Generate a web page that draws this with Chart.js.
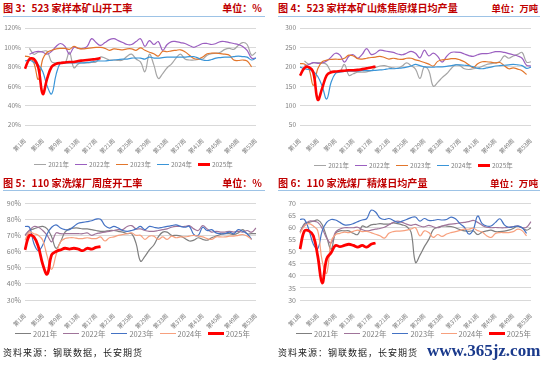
<!DOCTYPE html>
<html>
<head>
<meta charset="utf-8">
<script src="https://cdn.jsdelivr.net/npm/chart.js@4.4.1/dist/chart.umd.min.js"></script>
<style>
  body { margin: 0; width: 550px; height: 366px; background: #fff; position: relative; overflow: hidden;
         font-family: "Noto Sans CJK SC", "Noto Sans", sans-serif; }
  .title { position: absolute; font-size: 10.1px; font-weight: bold; color: #C00000; line-height: 12px; white-space: nowrap; }
  .unit { position: absolute; font-size: 10px; font-weight: bold; color: #C00000; line-height: 12px; white-space: nowrap; }
  .rule { position: absolute; height: 1px; background: #9DC3E6; }
  canvas { position: absolute; }
  .legend { position: absolute; display: flex; justify-content: center; align-items: center; white-space: nowrap; color: #7F7F7F; }
  .legend span.ln { display: inline-block; margin-right: 2px; }
  .legend span.it { display: inline-flex; align-items: center; margin: 0 3px; }
  .src { position: absolute; font-size: 9px; letter-spacing: 1px; color: #222; white-space: nowrap; }
  .mark { position: absolute; font-family: "Liberation Serif", serif; font-weight: bold; font-size: 17px; color: #1A3A8C; white-space: nowrap; }
</style>
</head>
<body>
<div class="title" style="left:3px;top:2px">图 3：523 家样本矿山开工率</div>
<div class="unit" style="right:288px;top:2px">单位：%</div>
<div class="rule" style="left:3px;top:16px;width:262px"></div>
<canvas id="c3" width="268" height="150" style="left:0;top:18px"></canvas>
<div class="legend" id="l3" style="left:0;top:159px;width:267px;height:10px;font-size:6.5px"></div>

<div class="title" style="left:278px;top:2px">图 4：523 家样本矿山炼焦原煤日均产量</div>
<div class="unit" style="right:12px;top:2px;font-size:9.3px">单位：万吨</div>
<div class="rule" style="left:278px;top:16px;width:262px"></div>
<canvas id="c4" width="268" height="150" style="left:275px;top:18px"></canvas>
<div class="legend" id="l4" style="left:280px;top:160px;width:267px;height:10px;font-size:6.5px"></div>

<div class="title" style="left:3px;top:177px">图 5：110 家洗煤厂周度开工率</div>
<div class="unit" style="right:288px;top:177px">单位：%</div>
<div class="rule" style="left:3px;top:190px;width:262px"></div>
<canvas id="c5" width="268" height="150" style="left:0;top:193px"></canvas>
<div class="legend" id="l5" style="left:0;top:328px;width:265px;height:11px;font-size:7.5px"></div>

<div class="title" style="left:278px;top:177px">图 6：110 家洗煤厂精煤日均产量</div>
<div class="unit" style="right:12px;top:177px;font-size:9.6px">单位：万吨</div>
<div class="rule" style="left:278px;top:190px;width:262px"></div>
<canvas id="c6" width="268" height="150" style="left:275px;top:193px"></canvas>
<div class="legend" id="l6" style="left:280px;top:328px;width:267px;height:11px;font-size:7.5px"></div>

<div class="src" style="left:3px;top:346px">资料来源：钢联数据，长安期货</div>
<div class="src" style="left:278px;top:346px">资料来源：钢联数据，长安期货</div>
<div class="mark" style="left:427px;top:341px">www.365jz.com</div>

<script>
const weekLabels = Array.from({ length: 53 }, (_, i) => '第' + (i + 1) + '周');
const yearNames = ['2021年', '2022年', '2023年', '2024年', '2025年'];
const colorsTop = ['#A5A5A5', '#9B5FC0', '#E2762C', '#3A95D8', '#FF0000'];
const colorsBottom = ['#7F7F7F', '#A0749A', '#4472C4', '#F7A07E', '#FF0000'];

// 图3 523家样本矿山开工率 (%)
const mineRate2021 = [null, 99, 93, 95, 96, 96, 85, 84, 84, 84, 95, 79, 83, 84, 84, 84.5, 85, 90, 89, 87, 87, 86.5, 87, 91, 93, 88, 85, 75, 93, 82, 68, 73, 79, 83, 89, 93, 88, 87, 87, 87.5, 88, 92, 93.5, 94, 95, 98, 99, 98, 102, 105, 103, 92, 95];
const mineRate2022 = [null, 93, 95, 96, 95, 93, 96, 101, 104, 101, 93, 100, 99, 99, 101, 109, 105, 102, 105, 108, 109, 107, 105, 103, 103, 106, 109, 101, 107, 103, 106, 97, 103, 106, 106, 105, 104, 102, 100, 102, 104, 104, 103, 104, 106, 106, 105, 104, 103, 101, 97, 89, 89];
const mineRate2023 = [91, 90, 84, 67, 88, 95, 97, 98.5, 99, 99, 98, 101, 99, 98.5, 99, 99.5, 100, 100, 99, 97, 98.5, 98, 97.5, 98.5, 98.5, 97, 99.5, 97, 95, 93.5, 91, 96, 95.5, 96.5, 97, 97.5, 95.5, 92, 88.5, 88, 90, 93.5, 94, 94, 93.5, 93, 92, 87, 86.5, 87, 86, 80, null];
const mineRate2024 = [86, 87, 84.5, 82, 75, 60, 52, 72, 84, 84, 84, 84, 84, 84, 84.5, 85, 86, 86, 86, 86.5, 87, 87.5, 88, 88, 89, 89, 89, 88, 90, 89, 89, 89.5, 90, 90, 90, 90, 90, 90.5, 90.5, 89, 87, 86.5, 87.5, 89, 89.5, 90, 90, 90.5, 91, 90.5, 90, 87, 89];
const mineRate2025 = [78, 88, 88, 79, 52, 68, 80, 83, 84, 84.5, 85, 85, 86, 86.5, 87, 87.5, 88, 89];

// 图4 523家样本矿山炼焦原煤日均产量 (万吨)
const rawCoal2021 = [null, 215, 207, 210, 211, 210, 206, 188, 187, 188, 206, 178, 182, 186, 186, 187, 190, 198, 202, 203, 200, 197, 196, 202, 210, 203, 194, 170, 200, 190, 150, 160, 172, 182, 195, 205, 203, 195, 193, 195, 197, 201, 206, 208, 210, 214, 228, 222, 228, 232, 237, 212, 213];
const rawCoal2022 = [null, 203, 206, 211, 209, 210, 215, 225, 235, 230, 212, 227, 231, 222, 232, 247, 232, 235, 243, 241, 239, 237, 233, 231, 235, 240, 235, 223, 243, 228, 235, 227, 212, 227, 237, 238, 237, 233, 229, 227, 231, 234, 234, 236, 239, 239, 237, 234, 231, 228, 222, 204, 202];
const rawCoal2023 = [208, 207, 195, 152, 195, 213, 217, 219, 220, 219, 222, 230, 228, 221, 220, 222, 224, 225, 227, 224, 220, 222, 220, 219, 222, 222, 218, 215, 211, 207, 202, 214, 218, 219, 221, 221, 218, 213, 205, 198, 208, 213, 213, 212, 210, 211, 203, 195, 197, 194, 190, 180, null];
const rawCoal2024 = [199, 195, 193, 188, 175, 150, 117, 160, 183, 186, 188, 189, 189, 189, 190, 190, 190, 191, 192, 193, 195, 195, 196, 197, 199, 202, 206, 203, 200, 199, 199, 200, 200, 201, 203, 205, 205, 204, 203, 200, 196, 195, 197, 199, 202, 203, 204, 205, 206, 205, 203, 196, 199];
const rawCoal2025 = [177, 197, 199, 185, 115, 145, 178, 186, 188, 189, 190, 191, 191, 192, 194, 196, 198, 201];

// 图5 110家洗煤厂周度开工率 (%)
const washRate2021 = [70, 73, 74, 75, 75.5, 74, 69, 62, 66, 72, 74, 74.5, 74.5, 74, 74, 73.5, 73, 72.5, 72.5, 73, 73, 72.5, 72, 71, 71, 65, 54, 57, 61, 64, 69, 72, 72, 70, 70, 69.5, 68, 66.5, 67, 68.5, 67.5, 67, 68.5, 69.5, 70.5, 71, 71, 70.5, 71.5, 73.5, 71, 71, 71];
const washRate2022 = [70, 73, 75.5, 75, 73, 70, 66, 71.5, 71, 71, 71, 71, 71, 71, 71.5, 70, 71, 71.5, 72, 72.5, 73, 73.5, 73.5, 75.5, 76, 74, 74, 73, 72.5, 72.5, 73, 73.5, 74, 75, 75.5, 75.5, 75.5, 76, 74, 73, 76, 74, 72, 72.5, 72, 72, 72.5, 72, 72.5, 72, 73, 72, 74.5];
const washRate2023 = [75.5, 75, 65, 60.5, 64, 71, 75, 76.5, 74.5, 73.5, 73.5, 75.5, 77.5, 78, 78.5, 79, 80, 80, 76, 74.5, 75.5, 74.5, 73, 72.5, 73, 74, 75.5, 73.5, 75.5, 75, 74.5, 75, 75.5, 76, 76.5, 75.5, 75, 75.5, 70.5, 70, 75, 73, 73.5, 71.5, 71, 71, 72, 71, 73.5, 72.5, 71, 67.5, null];
const washRate2024 = [67, 72, 71, 70, 67, 57, 49, 58, 66, 68, 68.5, 68.5, 68, 68, 68.5, 68, 68, 69, 66.5, 68.5, 69, 70, 70.5, 71, 71.5, 70, 70, 67.5, 69.5, 69.5, 67.5, 69, 67.5, 69.5, 68.5, 69, 69, 69.5, 70, 69.5, 69, 68, 67.5, 69, 69, 69, 69.5, 69.5, 70, 70.5, 69.5, 67.5, null];
const washRate2025 = [61, 70, 69, 63, 52, 46, 58, 60, 61, 62, 61.5, 62, 61.5, 60.5, 62, 61.5, 62.5, 63];

// 图6 110家洗煤厂精煤日均产量 (万吨)
const cleanCoal2021 = [58, 61.5, 62, 62.5, 63, 61, 56, 51, 57.5, 58.5, 58.5, 58.5, 57.5, 57, 60.5, 60, 61, 61.2, 61.5, 61.3, 61.3, 61.8, 61.5, 61, 60.3, 58, 45.5, 48.5, 52, 55, 59, 60, 60.5, 60.5, 60.3, 59.8, 59, 58.5, 58.3, 58.5, 57, 58, 58.5, 58.8, 58.2, 58.2, 58.4, 58.8, 59.5, 60.5, 59.8, 58.8, 59.8];
const cleanCoal2022 = [58, 61, 62.5, 62.5, 62, 59.5, 55.5, 53.5, 58, 59.3, 59.8, 59.8, 59.8, 60, 59, 58.5, 58.8, 59.2, 59.5, 60, 61, 62, 62.5, 62, 61.3, 60.8, 61.2, 60.5, 60.2, 60.8, 60.2, 59.8, 60.5, 61, 61.3, 61.5, 61.8, 62, 62.3, 62.8, 62, 60.8, 60, 59.8, 59.9, 59.8, 59.8, 60, 60.3, 60.5, 59.8, 60, 62.3];
const cleanCoal2023 = [63.2, 63.2, 59, 53, 51.2, 58.5, 62, 63.2, 63, 62, 61, 61, 61.5, 62.3, 63, 63.5, 67, 66.3, 63.8, 63.2, 63.6, 62.8, 62, 62.5, 63.2, 64, 64.2, 62.5, 63.6, 62.8, 62.8, 63.2, 63, 63.2, 64.2, 63.5, 61.5, 60, 57.2, 59, 64.6, 61.5, 60.5, 60.5, 62, 63.5, 61, 60, 60.2, 60.5, 59.8, 57.5, null];
const cleanCoal2024 = [57.5, 60.5, 61.5, 60.5, 58.5, 46, 41, 54, 57, 57.5, 58, 57.8, 58.3, 58.8, 58.2, 58.3, 57.8, 57.1, 56.5, 55.5, 57.5, 58.2, 58.4, 58.5, 58.8, 59.3, 59.8, 56.4, 58.5, 57.8, 55.8, 57, 56.2, 57.2, 57.8, 58.2, 58.7, 59.2, 59.2, 59.6, 58.6, 58, 56.5, 55.8, 57.4, 57.8, 57.8, 57.8, 58.2, 59.2, 58.6, 56.4, null];
const cleanCoal2025 = [51, 58.5, 58.5, 56.5, 48, 37, 47, 49.5, 52.5, 52, 52.5, 53, 52.5, 51.8, 52.5, 51.8, 53, 53.5];

function makeChart(id, series, colors, yMin, yMax, yStep, suffix, yFontSize, redWidth) {
  const family = '"Noto Sans CJK SC", "Noto Sans", sans-serif';
  new Chart(document.getElementById(id), {
    type: 'line',
    data: {
      labels: weekLabels,
      datasets: series.map((s, i) => ({
        label: yearNames[i],
        data: s,
        borderColor: colors[i],
        backgroundColor: colors[i],
        borderWidth: i === 4 ? redWidth : 1.2,
        pointRadius: 0,
        tension: 0.4,
        fill: false,
        order: 5 - i
      }))
    },
    options: {
      responsive: false,
      animation: false,
      layout: { padding: { top: 10, right: 12, left: 0, bottom: 0 } },
      plugins: { legend: { display: false }, tooltip: { enabled: false } },
      scales: {
        x: {
          grid: { display: false },
          border: { display: false },
          ticks: {
            autoSkip: false, minRotation: 45, maxRotation: 45, padding: 4,
            color: '#7F7F7F', font: { size: 6, family: family },
            callback: function (v, i) { return i % 4 === 0 ? this.getLabelForValue(v) : ''; }
          },
          afterFit: s => { s.height = 43; }
        },
        y: {
          min: yMin, max: yMax,
          grid: { color: '#D9D9D9', drawTicks: false },
          border: { display: false },
          ticks: { stepSize: yStep, padding: 4, color: '#7F7F7F', font: { size: yFontSize, family: family },
                   callback: v => v + suffix },
          afterFit: s => { s.width = 25; }
        }
      }
    }
  });
}

function makeLegend(id, colors, lineLen, redWidth) {
  const box = document.getElementById(id);
  yearNames.forEach((name, i) => {
    const it = document.createElement('span');
    it.className = 'it';
    const ln = document.createElement('span');
    ln.className = 'ln';
    ln.style.width = lineLen + 'px';
    ln.style.borderTop = (i === 4 ? redWidth : 1.5) + 'px solid ' + colors[i];
    it.appendChild(ln);
    it.appendChild(document.createTextNode(name));
    box.appendChild(it);
  });
}

makeChart('c3', [mineRate2021, mineRate2022, mineRate2023, mineRate2024, mineRate2025], colorsTop, 20, 120, 10, '%', 6.5, 2.6);
makeChart('c4', [rawCoal2021, rawCoal2022, rawCoal2023, rawCoal2024, rawCoal2025], colorsTop, 50, 300, 50, '', 6.5, 2.6);
makeChart('c5', [washRate2021, washRate2022, washRate2023, washRate2024, washRate2025], colorsBottom, 30, 90, 10, '%', 7, 2.8);
makeChart('c6', [cleanCoal2021, cleanCoal2022, cleanCoal2023, cleanCoal2024, cleanCoal2025], colorsBottom, 30, 70, 5, '', 7, 2.8);

makeLegend('l3', colorsTop, 12, 3);
makeLegend('l4', colorsTop, 12, 3);
makeLegend('l5', colorsBottom, 16, 3);
makeLegend('l6', colorsBottom, 16, 3);
</script>
</body>
</html>
